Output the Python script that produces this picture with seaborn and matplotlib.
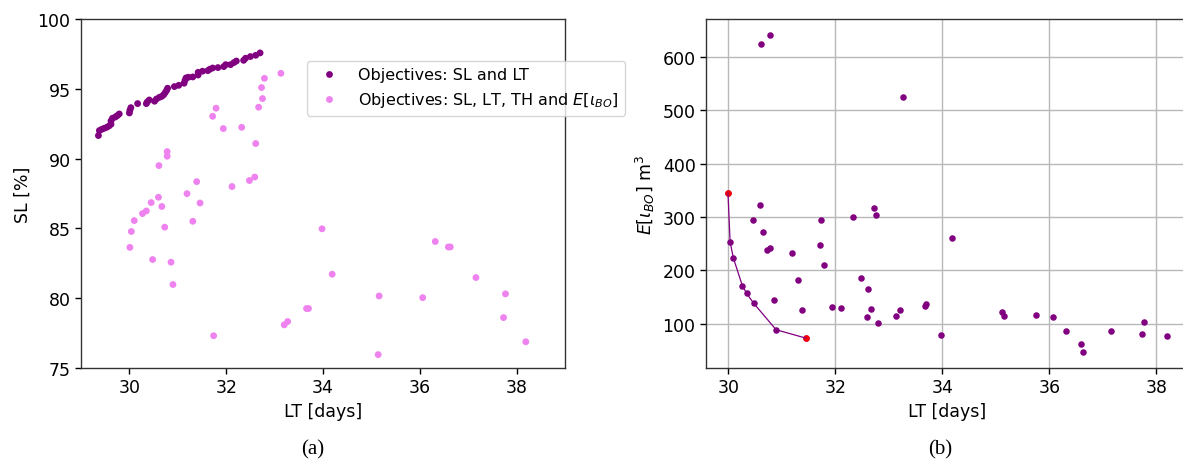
import numpy as np
import pandas as pd
import matplotlib
matplotlib.use("Agg")
import matplotlib.pyplot as plt
import seaborn as sns

# ---- Panel (a): SL vs LT ----
lt_two = [29.36, 29.38, 29.43, 29.48, 29.53, 29.58, 29.62, 29.62, 29.65, 29.71,
          29.75, 29.79, 30.00, 30.01, 30.03, 30.17, 30.35, 30.37, 30.41, 30.52,
          30.56, 30.62, 30.67, 30.71, 30.74, 30.77, 30.79, 30.93, 31.02, 31.13,
          31.15, 31.17, 31.22, 31.31, 31.42, 31.42, 31.51, 31.62, 31.66, 31.72,
          31.83, 31.95, 31.99, 32.09, 32.16, 32.21, 32.36, 32.40, 32.50, 32.61,
          32.70]
sl_two = [91.65, 92.01, 92.10, 92.17, 92.24, 92.34, 92.46, 92.70, 92.89, 92.98,
          93.08, 93.20, 93.27, 93.46, 93.65, 93.94, 93.94, 94.06, 94.20, 94.11,
          94.27, 94.39, 94.46, 94.58, 94.73, 94.89, 95.04, 95.16, 95.25, 95.40,
          95.61, 95.78, 95.83, 95.85, 95.99, 96.18, 96.26, 96.30, 96.40, 96.49,
          96.52, 96.59, 96.73, 96.73, 96.88, 96.99, 97.04, 97.19, 97.31, 97.40,
          97.57]

lt_four = [30.78, 30.78, 30.61, 31.39, 31.19, 32.12, 32.48, 32.59, 30.60, 30.45,
           30.67, 30.35, 30.27, 31.46, 30.10, 31.31, 30.04, 30.73, 33.98, 30.01,
           30.48, 30.86, 34.19, 30.90, 33.66, 33.70, 33.27, 33.20, 31.74,
           33.13, 32.79, 32.73, 32.75, 32.67, 31.79, 31.72, 31.94, 32.32, 32.61,
           35.16, 35.14, 36.32, 36.59, 36.63, 36.06, 37.16, 37.77, 37.73, 38.19]
sl_four = [90.50, 90.17, 89.50, 88.35, 87.49, 88.00, 88.43, 88.68, 87.23, 86.85,
           86.57, 86.25, 86.06, 86.82, 85.56, 85.51, 84.78, 85.09, 84.97, 83.64,
           82.77, 82.58, 81.72, 80.98, 79.26, 79.26, 78.33, 78.09, 77.31,
           96.11, 95.75, 95.09, 94.30, 93.68, 93.61, 93.03, 92.15, 92.24, 91.08,
           80.16, 75.96, 84.06, 83.67, 83.67, 80.04, 81.48, 80.31, 78.61, 76.88]

label_two = "Objectives: SL and LT"
label_four = "Objectives: SL, LT, TH and $E[\\iota_{BO}]$"

# ---- Panel (b): E[iota_BO] vs LT ----
lt_b = [30.59, 30.45, 30.65, 30.72, 30.77, 31.18, 31.30, 30.85, 31.38, 31.73,
        31.71, 31.79, 31.93, 32.11, 32.32, 32.72, 32.75, 32.47, 32.61, 32.66,
        32.59, 32.80, 33.13, 33.20, 33.67, 33.69, 33.98, 34.18,
        30.60, 30.77, 33.26,
        35.12, 35.16, 35.75, 36.07, 36.32, 36.59, 36.62, 37.16, 37.73, 37.77, 38.20]
e_b = [322.3, 294.9, 272.4, 238.7, 241.7, 233.1, 181.2, 145.0, 125.5, 294.9,
       246.8, 210.6, 131.1, 129.2, 301.1, 317.4, 304.3, 186.2, 164.3, 128.1,
       111.8, 100.6, 115.0, 126.2, 132.4, 136.7, 79.4, 260.4,
       624.8, 641.7, 525.5,
       122.5, 115.0, 116.1, 113.1, 85.6, 62.5, 46.8, 86.1, 81.3, 103.0, 76.2]

lt_front = [29.99, 30.03, 30.09, 30.26, 30.34, 30.47, 30.89, 31.45]
e_front = [345.6, 253.7, 223.7, 171.2, 156.8, 138.6, 88.8, 73.0]

# ---- Build data frames ----
df_a = pd.DataFrame({
    "LT": lt_two + lt_four,
    "SL": sl_two + sl_four,
    "run": [label_two] * len(lt_two) + [label_four] * len(lt_four),
})
df_b = pd.DataFrame({"LT": lt_b + lt_front, "E": e_b + e_front})
df_front = pd.DataFrame({"LT": lt_front, "E": e_front})
df_ends = df_front.iloc[[0, -1]]

sns.set_style("white")
plt.rcParams["font.family"] = ["DejaVu Sans"]
for k in ("text.color", "axes.labelcolor", "xtick.color", "ytick.color"):
    plt.rcParams[k] = "black"
FS = 12.5
LFS = 11.5

fig = plt.figure(figsize=(11.83, 4.64), dpi=100)
ax1 = fig.add_axes([81 / 1183, 95 / 464, 484 / 1183, 349 / 464])
ax2 = fig.add_axes([706 / 1183, 95 / 464, 483 / 1183, 349 / 464])

sns.scatterplot(data=df_a, x="LT", y="SL", hue="run",
                palette={label_two: "purple", label_four: "violet"},
                s=24, linewidth=0, ax=ax1)
ax1.set_xlim(29, 39)
ax1.set_ylim(75, 100)
ax1.set_xticks([30, 32, 34, 36, 38])
ax1.set_yticks([75, 80, 85, 90, 95, 100])
ax1.set_xlabel("LT [days]", fontsize=FS)
ax1.set_ylabel("SL [%]", fontsize=FS)
ax1.tick_params(labelsize=FS, length=4, width=1, bottom=True, left=True, direction="out")
leg = ax1.legend(loc="upper left", bbox_to_anchor=(0.467, 0.88), fontsize=LFS,
                 frameon=True, borderaxespad=0.0)
leg.get_frame().set_edgecolor("#cccccc")

ax2.grid(True, color="#b8b8b8", linewidth=1)
ax2.set_axisbelow(True)
sns.lineplot(data=df_front, x="LT", y="E", sort=False, color="purple",
             linewidth=0.9, ax=ax2)
sns.scatterplot(data=df_b, x="LT", y="E", color="purple", s=22, linewidth=0, ax=ax2)
sns.scatterplot(data=df_ends, x="LT", y="E", color="red", s=22, linewidth=0, ax=ax2)
ax2.set_xticks([30, 32, 34, 36, 38])
ax2.set_yticks([100, 200, 300, 400, 500, 600])
ax2.set_xlabel("LT [days]", fontsize=FS)
ax2.set_ylabel("$E[\\iota_{BO}]$ m$^3$", fontsize=FS)
ax2.tick_params(labelsize=FS, length=4, width=1, bottom=True, left=True, direction="out")

for ax in (ax1, ax2):
    for sp in ax.spines.values():
        sp.set_color("#333333")
        sp.set_linewidth(1)

fig.text(313 / 1183, 1 - 450 / 464, "(a)", family="Liberation Serif", fontsize=15,
         ha="center", va="center")
fig.text(940 / 1183, 1 - 450 / 464, "(b)", family="Liberation Serif", fontsize=15,
         ha="center", va="center")

fig.savefig("out.png", dpi=100)
